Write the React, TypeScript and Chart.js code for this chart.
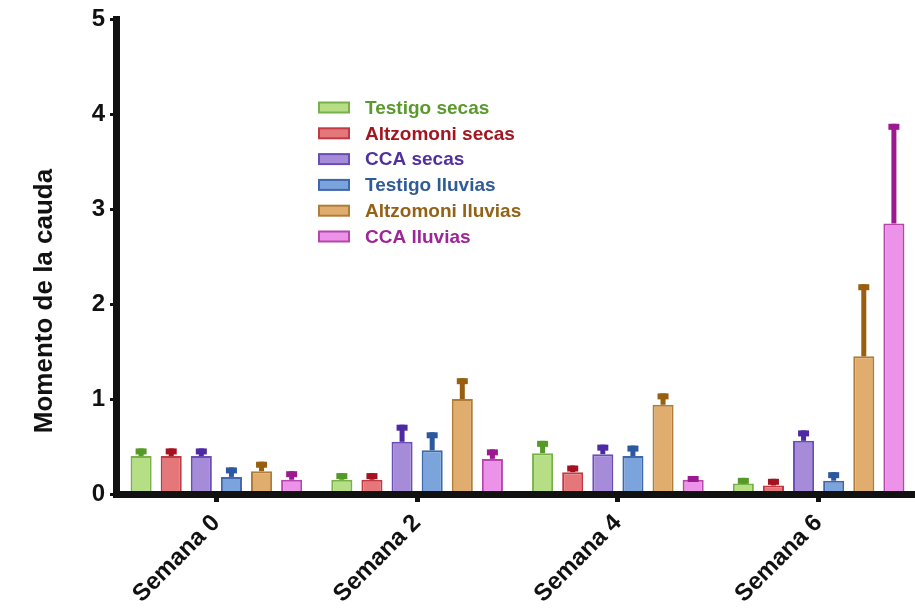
import React, { useEffect, useRef } from "react";
import { Chart, registerables } from "chart.js";

Chart.register(...registerables);

const categories = ["Semana 0", "Semana 2", "Semana 4", "Semana 6"];
const seriesNames = [
  "Testigo secas",
  "Altzomoni secas",
  "CCA secas",
  "Testigo lluvias",
  "Altzomoni lluvias",
  "CCA lluvias",
];

const testigoSecas = [0.4, 0.15, 0.43, 0.11];
const testigoSecasErr = [0.08, 0.07, 0.13, 0.06];
const altzomoniSecas = [0.4, 0.15, 0.23, 0.09];
const altzomoniSecasErr = [0.08, 0.07, 0.07, 0.07];
const ccaSecas = [0.4, 0.55, 0.42, 0.56];
const ccaSecasErr = [0.08, 0.18, 0.1, 0.11];
const testigoLluvias = [0.18, 0.46, 0.4, 0.14];
const testigoLluviasErr = [0.1, 0.19, 0.11, 0.09];
const altzomoniLluvias = [0.24, 1.0, 0.94, 1.45];
const altzomoniLluviasErr = [0.1, 0.22, 0.12, 0.76];
const ccaLluvias = [0.15, 0.37, 0.15, 2.85];
const ccaLluviasErr = [0.09, 0.1, 0.04, 1.05];

const yMin = 0;
const yMax = 5;
const yStep = 1;
const yTitle = "Momento de la cauda";

const seriesValues = [testigoSecas, altzomoniSecas, ccaSecas, testigoLluvias, altzomoniLluvias, ccaLluvias];
const seriesErrors = [testigoSecasErr, altzomoniSecasErr, ccaSecasErr, testigoLluviasErr, altzomoniLluviasErr, ccaLluviasErr];

const fills = ["#b6de84", "#e5777b", "#a68bd9", "#7ba3dc", "#e0ad6e", "#ec92e8"];
const borders = ["#78b04a", "#bf3a42", "#6a4eb6", "#3f67ab", "#b07d36", "#b446ac"];
const errColors = ["#559a27", "#a5111f", "#4d2aa3", "#2b589f", "#985f10", "#9c1a90"];
const textColors = ["#5a992e", "#a3161f", "#51309d", "#2f5c99", "#936216", "#9e2499"];

const FONT = "'Liberation Sans', Arial, Helvetica, sans-serif";

const errorBarPlugin = {
  id: "errorBars",
  afterDatasetsDraw(chart: any) {
    const ctx = chart.ctx;
    const yScale = chart.scales.y;
    chart.data.datasets.forEach((ds: any, i: number) => {
      const meta = chart.getDatasetMeta(i);
      meta.data.forEach((bar: any, j: number) => {
        const v = ds.data[j];
        const e = ds.errors[j];
        const yTop = yScale.getPixelForValue(v + e);
        const yBar = bar.y;
        ctx.save();
        ctx.fillStyle = ds.errorColor;
        ctx.fillRect(bar.x - 2.5, yTop, 5, Math.max(0, yBar - yTop));
        ctx.fillRect(bar.x - 5.5, yTop, 11, 6);
        ctx.restore();
      });
    });
  },
};

const legendPlugin = {
  id: "customLegend",
  afterDraw(chart: any) {
    const ctx = chart.ctx;
    ctx.save();
    chart.data.datasets.forEach((ds: any, i: number) => {
      const cy = 107.5 + i * 25.8;
      ctx.fillStyle = ds.backgroundColor;
      ctx.strokeStyle = ds.borderColor;
      ctx.lineWidth = 2;
      ctx.fillRect(319, cy - 5, 30, 10);
      ctx.strokeRect(319, cy - 5, 30, 10);
      ctx.fillStyle = ds.textColor;
      ctx.font = `bold 19px ${FONT}`;
      ctx.textBaseline = "middle";
      ctx.textAlign = "left";
      ctx.fillText(ds.label, 365, cy + 1);
    });
    ctx.restore();
  },
};

const yTitlePlugin = {
  id: "yTitle",
  afterDraw(chart: any) {
    const ctx = chart.ctx;
    ctx.save();
    ctx.translate(45, 301);
    ctx.rotate(-Math.PI / 2);
    ctx.font = `bold 26px ${FONT}`;
    ctx.fillStyle = "#111";
    ctx.textAlign = "center";
    ctx.textBaseline = "middle";
    ctx.fillText(yTitle, 0, 0);
    ctx.restore();
  },
};

export default function App() {
  const canvasRef = useRef<HTMLCanvasElement | null>(null);

  useEffect(() => {
    if (!canvasRef.current) return;
    const datasets = seriesNames.map((name, i) => ({
      label: name,
      data: seriesValues[i],
      errors: seriesErrors[i],
      backgroundColor: fills[i],
      borderColor: borders[i],
      borderWidth: 2,
      errorColor: errColors[i],
      textColor: textColors[i],
      categoryPercentage: 0.9,
      barPercentage: 0.7,
    }));
    const chart = new Chart(canvasRef.current, {
      type: "bar",
      data: { labels: categories, datasets: datasets as any },
      options: {
        animation: false,
        responsive: false,
        devicePixelRatio: 1,
        layout: { padding: { top: 17, left: 0, right: 0, bottom: 0 } },
        plugins: {
          legend: { display: false },
          tooltip: { enabled: false },
        },
        scales: {
          x: {
            offset: true,
            grid: {
              display: true,
              offset: false,
              drawOnChartArea: false,
              drawTicks: true,
              tickLength: 8,
              tickWidth: 5,
              tickColor: "#111",
            },
            border: { display: true, color: "#111", width: 7, z: 1 },
            ticks: {
              color: "#111",
              font: { family: FONT, size: 24, weight: "bold" },
              maxRotation: 45,
              minRotation: 45,
              padding: 7,
              autoSkip: false,
            },
            afterFit(scale: any) {
              scale.height = 116;
            },
          },
          y: {
            min: yMin,
            max: yMax,
            ticks: {
              stepSize: yStep,
              color: "#111",
              font: { family: FONT, size: 24, weight: "bold" },
              padding: 5,
            },
            grid: {
              display: true,
              drawOnChartArea: false,
              drawTicks: true,
              tickLength: 6,
              tickWidth: 3,
              tickColor: "#111",
            },
            border: { display: true, color: "#111", width: 7, z: 1 },
            afterFit(scale: any) {
              scale.width = 116;
            },
          },
        },
      },
      plugins: [errorBarPlugin, legendPlugin, yTitlePlugin],
    });
    return () => chart.destroy();
  }, []);

  return (
    <div
      style={{
        position: "fixed",
        left: 0,
        top: 0,
        width: 915,
        height: 610,
        overflow: "hidden",
        background: "#fff",
      }}
    >
      <canvas ref={canvasRef} width={919} height={610} style={{ width: 919, height: 610, display: "block" }} />
    </div>
  );
}
